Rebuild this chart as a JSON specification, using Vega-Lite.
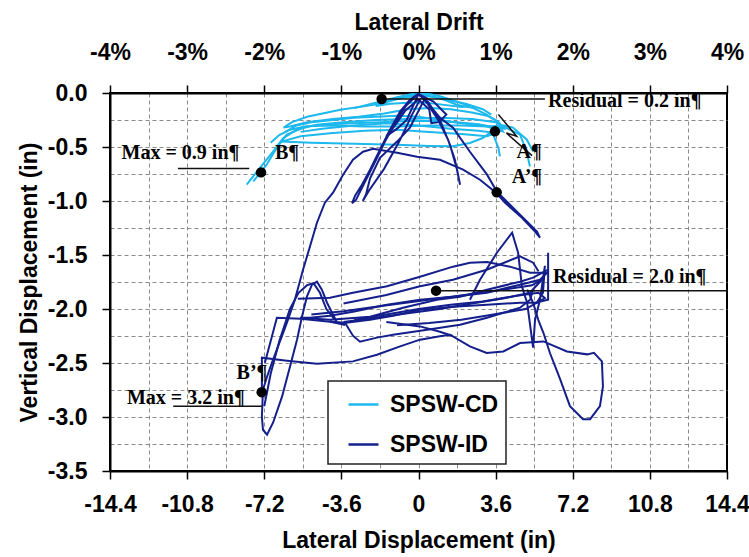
{
"$schema": "https://vega.github.io/schema/vega-lite/v6.json",
"width": 617, "height": 378,
"autosize": "none",
"padding": {"left": 110, "top": 93, "right": 22, "bottom": 86},
"background": "white",
"config": {
 "view": {"stroke": "#000", "strokeWidth": 2},
 "axis": {"labelFont": "Liberation Sans", "labelFontWeight": "bold", "labelFontSize": 23, "labelColor": "#000",
  "titleFont": "Liberation Sans", "titleFontWeight": "bold", "titleFontSize": 23, "titleColor": "#000",
  "domainColor": "#000", "domainWidth": 2, "tickColor": "#000", "tickWidth": 1.5, "tickSize": 8, "labelFlush": false},
 "legend": {"orient": "none", "legendX": 218, "legendY": 288, "fillColor": "white", "strokeColor": "#222", "strokeWidth": 1.5,
  "padding": 7, "symbolType": "stroke", "symbolSize": 900, "symbolStrokeWidth": 2.5, "symbolOffset": 12, "labelOffset": 10,
  "rowPadding": 11, "labelFont": "Liberation Sans", "labelFontWeight": "bold", "labelFontSize": 23, "labelColor": "#000"}
},
"datasets": {
 "curves": [
  {"s":"SPSW-CD","g":"c1","i":0,"x":0,"y":0},{"s":"SPSW-CD","g":"c1","i":1,"x":0.5,"y":-0.01},{"s":"SPSW-CD","g":"c1","i":2,"x":1.0,"y":-0.03},{"s":"SPSW-CD","g":"c1","i":3,"x":1.8,"y":-0.08},{"s":"SPSW-CD","g":"c1","i":4,"x":2.4,"y":-0.12},{"s":"SPSW-CD","g":"c1","i":5,"x":2.0,"y":-0.13},{"s":"SPSW-CD","g":"c1","i":6,"x":1.2,"y":-0.11},{"s":"SPSW-CD","g":"c1","i":7,"x":0.4,"y":-0.09},{"s":"SPSW-CD","g":"c1","i":8,"x":-0.5,"y":-0.09},{"s":"SPSW-CD","g":"c1","i":9,"x":-1.3,"y":-0.1},{"s":"SPSW-CD","g":"c1","i":10,"x":-2.0,"y":-0.12},{"s":"SPSW-CD","g":"c1","i":11,"x":-1.4,"y":-0.08},{"s":"SPSW-CD","g":"c1","i":12,"x":-0.7,"y":-0.04},{"s":"SPSW-CD","g":"c1","i":13,"x":0,"y":-0.01},
  {"s":"SPSW-CD","g":"c2","i":0,"x":0,"y":-0.01},{"s":"SPSW-CD","g":"c2","i":1,"x":-0.24,"y":-0.03},{"s":"SPSW-CD","g":"c2","i":2,"x":-1.17,"y":-0.06},{"s":"SPSW-CD","g":"c2","i":3,"x":-2.1,"y":-0.11},{"s":"SPSW-CD","g":"c2","i":4,"x":-3.65,"y":-0.155},{"s":"SPSW-CD","g":"c2","i":5,"x":-5.2,"y":-0.22},{"s":"SPSW-CD","g":"c2","i":6,"x":-5.9,"y":-0.27},{"s":"SPSW-CD","g":"c2","i":7,"x":-6.3,"y":-0.32},{"s":"SPSW-CD","g":"c2","i":8,"x":-6.0,"y":-0.31},{"s":"SPSW-CD","g":"c2","i":9,"x":-5.2,"y":-0.27},{"s":"SPSW-CD","g":"c2","i":10,"x":-4.0,"y":-0.24},{"s":"SPSW-CD","g":"c2","i":11,"x":-2.8,"y":-0.22},{"s":"SPSW-CD","g":"c2","i":12,"x":-1.6,"y":-0.19},{"s":"SPSW-CD","g":"c2","i":13,"x":-0.5,"y":-0.15},{"s":"SPSW-CD","g":"c2","i":14,"x":0.5,"y":-0.14},{"s":"SPSW-CD","g":"c2","i":15,"x":1.5,"y":-0.15},{"s":"SPSW-CD","g":"c2","i":16,"x":2.5,"y":-0.18},{"s":"SPSW-CD","g":"c2","i":17,"x":3.2,"y":-0.21},{"s":"SPSW-CD","g":"c2","i":18,"x":3.7,"y":-0.26},{"s":"SPSW-CD","g":"c2","i":19,"x":4.0,"y":-0.33},{"s":"SPSW-CD","g":"c2","i":20,"x":3.6,"y":-0.32},{"s":"SPSW-CD","g":"c2","i":21,"x":2.8,"y":-0.29},{"s":"SPSW-CD","g":"c2","i":22,"x":1.8,"y":-0.27},{"s":"SPSW-CD","g":"c2","i":23,"x":0.8,"y":-0.26},{"s":"SPSW-CD","g":"c2","i":24,"x":-0.5,"y":-0.26},{"s":"SPSW-CD","g":"c2","i":25,"x":-1.8,"y":-0.27},{"s":"SPSW-CD","g":"c2","i":26,"x":-3.0,"y":-0.28},{"s":"SPSW-CD","g":"c2","i":27,"x":-4.2,"y":-0.29},{"s":"SPSW-CD","g":"c2","i":28,"x":-5.3,"y":-0.31},{"s":"SPSW-CD","g":"c2","i":29,"x":-6.0,"y":-0.34},{"s":"SPSW-CD","g":"c2","i":30,"x":-6.5,"y":-0.39},{"s":"SPSW-CD","g":"c2","i":31,"x":-6.9,"y":-0.46},
  {"s":"SPSW-CD","g":"c3","i":0,"x":0,"y":0},{"s":"SPSW-CD","g":"c3","i":1,"x":0.07,"y":-0.016},{"s":"SPSW-CD","g":"c3","i":2,"x":1.0,"y":-0.046},{"s":"SPSW-CD","g":"c3","i":3,"x":1.78,"y":-0.108},{"s":"SPSW-CD","g":"c3","i":4,"x":2.56,"y":-0.139},{"s":"SPSW-CD","g":"c3","i":5,"x":3.18,"y":-0.2},{"s":"SPSW-CD","g":"c3","i":6,"x":3.65,"y":-0.263},{"s":"SPSW-CD","g":"c3","i":7,"x":3.94,"y":-0.356},{"s":"SPSW-CD","g":"c3","i":8,"x":3.7,"y":-0.34},{"s":"SPSW-CD","g":"c3","i":9,"x":3.0,"y":-0.3},{"s":"SPSW-CD","g":"c3","i":10,"x":2.0,"y":-0.28},{"s":"SPSW-CD","g":"c3","i":11,"x":1.0,"y":-0.25},{"s":"SPSW-CD","g":"c3","i":12,"x":0,"y":-0.22},{"s":"SPSW-CD","g":"c3","i":13,"x":-1.0,"y":-0.21},{"s":"SPSW-CD","g":"c3","i":14,"x":-2.0,"y":-0.22},{"s":"SPSW-CD","g":"c3","i":15,"x":-3.0,"y":-0.23},{"s":"SPSW-CD","g":"c3","i":16,"x":-4.0,"y":-0.25},{"s":"SPSW-CD","g":"c3","i":17,"x":-5.0,"y":-0.27},{"s":"SPSW-CD","g":"c3","i":18,"x":-5.7,"y":-0.3},{"s":"SPSW-CD","g":"c3","i":19,"x":-6.2,"y":-0.36},
  {"s":"SPSW-CD","g":"c4","i":0,"x":-6.4,"y":-0.45},{"s":"SPSW-CD","g":"c4","i":1,"x":-5.0,"y":-0.46},{"s":"SPSW-CD","g":"c4","i":2,"x":-3.0,"y":-0.47},{"s":"SPSW-CD","g":"c4","i":3,"x":-1.0,"y":-0.48},{"s":"SPSW-CD","g":"c4","i":4,"x":0.5,"y":-0.49},{"s":"SPSW-CD","g":"c4","i":5,"x":1.61,"y":-0.494},{"s":"SPSW-CD","g":"c4","i":6,"x":2.4,"y":-0.463},{"s":"SPSW-CD","g":"c4","i":7,"x":3.0,"y":-0.417},{"s":"SPSW-CD","g":"c4","i":8,"x":3.42,"y":-0.356},{"s":"SPSW-CD","g":"c4","i":9,"x":3.49,"y":-0.386},{"s":"SPSW-CD","g":"c4","i":10,"x":3.73,"y":-0.509},{"s":"SPSW-CD","g":"c4","i":11,"x":3.8,"y":-0.587},
  {"s":"SPSW-CD","g":"c5","i":0,"x":-8.02,"y":-0.849},{"s":"SPSW-CD","g":"c5","i":1,"x":-7.4,"y":-0.694},{"s":"SPSW-CD","g":"c5","i":2,"x":-6.78,"y":-0.541},{"s":"SPSW-CD","g":"c5","i":3,"x":-6.31,"y":-0.417},{"s":"SPSW-CD","g":"c5","i":4,"x":-5.69,"y":-0.34},{"s":"SPSW-CD","g":"c5","i":5,"x":-4.75,"y":-0.293},{"s":"SPSW-CD","g":"c5","i":6,"x":-3.5,"y":-0.27},{"s":"SPSW-CD","g":"c5","i":7,"x":-2.0,"y":-0.25},{"s":"SPSW-CD","g":"c5","i":8,"x":-0.5,"y":-0.24},{"s":"SPSW-CD","g":"c5","i":9,"x":1.0,"y":-0.23},{"s":"SPSW-CD","g":"c5","i":10,"x":2.5,"y":-0.24},{"s":"SPSW-CD","g":"c5","i":11,"x":3.6,"y":-0.27},{"s":"SPSW-CD","g":"c5","i":12,"x":4.12,"y":-0.324},{"s":"SPSW-CD","g":"c5","i":13,"x":4.74,"y":-0.386},{"s":"SPSW-CD","g":"c5","i":14,"x":5.05,"y":-0.541},{"s":"SPSW-CD","g":"c5","i":15,"x":5.2,"y":-0.68},
  {"s":"SPSW-CD","g":"c6","i":0,"x":-7.71,"y":-0.819},{"s":"SPSW-CD","g":"c6","i":1,"x":-7.09,"y":-0.664},{"s":"SPSW-CD","g":"c6","i":2,"x":-6.62,"y":-0.509},{"s":"SPSW-CD","g":"c6","i":3,"x":-6.15,"y":-0.386},{"s":"SPSW-CD","g":"c6","i":4,"x":-5.22,"y":-0.309},{"s":"SPSW-CD","g":"c6","i":5,"x":-4.0,"y":-0.3},{"s":"SPSW-CD","g":"c6","i":6,"x":-2.5,"y":-0.31},{"s":"SPSW-CD","g":"c6","i":7,"x":-1.0,"y":-0.31},{"s":"SPSW-CD","g":"c6","i":8,"x":0.5,"y":-0.3},{"s":"SPSW-CD","g":"c6","i":9,"x":2.0,"y":-0.3},{"s":"SPSW-CD","g":"c6","i":10,"x":3.2,"y":-0.31},{"s":"SPSW-CD","g":"c6","i":11,"x":4.0,"y":-0.3},{"s":"SPSW-CD","g":"c6","i":12,"x":4.41,"y":-0.32},{"s":"SPSW-CD","g":"c6","i":13,"x":5.05,"y":-0.43},{"s":"SPSW-CD","g":"c6","i":14,"x":5.35,"y":-0.541},
  {"s":"SPSW-CD","g":"c7","i":0,"x":-5.5,"y":-0.36},{"s":"SPSW-CD","g":"c7","i":1,"x":-4.5,"y":-0.33},{"s":"SPSW-CD","g":"c7","i":2,"x":-3.0,"y":-0.3},{"s":"SPSW-CD","g":"c7","i":3,"x":-1.5,"y":-0.28},{"s":"SPSW-CD","g":"c7","i":4,"x":0,"y":-0.3},{"s":"SPSW-CD","g":"c7","i":5,"x":1.5,"y":-0.33},{"s":"SPSW-CD","g":"c7","i":6,"x":2.8,"y":-0.35},{"s":"SPSW-CD","g":"c7","i":7,"x":3.6,"y":-0.37},{"s":"SPSW-CD","g":"c7","i":8,"x":3.2,"y":-0.4},{"s":"SPSW-CD","g":"c7","i":9,"x":2.0,"y":-0.38},{"s":"SPSW-CD","g":"c7","i":10,"x":0.5,"y":-0.36},{"s":"SPSW-CD","g":"c7","i":11,"x":-1.0,"y":-0.34},{"s":"SPSW-CD","g":"c7","i":12,"x":-2.5,"y":-0.35},{"s":"SPSW-CD","g":"c7","i":13,"x":-4.0,"y":-0.37},{"s":"SPSW-CD","g":"c7","i":14,"x":-5.5,"y":-0.4},{"s":"SPSW-CD","g":"c7","i":15,"x":-6.4,"y":-0.45},
  {"s":"SPSW-CD","g":"c8","i":0,"x":-3.0,"y":-0.14},{"s":"SPSW-CD","g":"c8","i":1,"x":-2.0,"y":-0.09},{"s":"SPSW-CD","g":"c8","i":2,"x":-1.0,"y":-0.04},{"s":"SPSW-CD","g":"c8","i":3,"x":-0.3,"y":-0.01},{"s":"SPSW-CD","g":"c8","i":4,"x":0.3,"y":-0.02},{"s":"SPSW-CD","g":"c8","i":5,"x":1.2,"y":-0.06},{"s":"SPSW-CD","g":"c8","i":6,"x":2.2,"y":-0.1},{"s":"SPSW-CD","g":"c8","i":7,"x":3.0,"y":-0.15},{"s":"SPSW-CD","g":"c8","i":8,"x":3.4,"y":-0.2},

  {"s":"SPSW-ID","g":"d1","i":0,"x":0,"y":-0.006},{"s":"SPSW-ID","g":"d1","i":1,"x":0.3,"y":-0.062},{"s":"SPSW-ID","g":"d1","i":2,"x":0.91,"y":-0.247},{"s":"SPSW-ID","g":"d1","i":3,"x":1.38,"y":-0.432},{"s":"SPSW-ID","g":"d1","i":4,"x":1.7,"y":-0.618},{"s":"SPSW-ID","g":"d1","i":5,"x":1.94,"y":-0.849},{"s":"SPSW-ID","g":"d1","i":6,"x":1.8,"y":-0.71},{"s":"SPSW-ID","g":"d1","i":7,"x":1.47,"y":-0.479},{"s":"SPSW-ID","g":"d1","i":8,"x":1.0,"y":-0.25},{"s":"SPSW-ID","g":"d1","i":9,"x":0.44,"y":-0.081},{"s":"SPSW-ID","g":"d1","i":10,"x":0,"y":-0.006},{"s":"SPSW-ID","g":"d1","i":11,"x":-0.4,"y":-0.062},{"s":"SPSW-ID","g":"d1","i":12,"x":-0.86,"y":-0.173},{"s":"SPSW-ID","g":"d1","i":13,"x":-1.33,"y":-0.34},{"s":"SPSW-ID","g":"d1","i":14,"x":-1.8,"y":-0.525},{"s":"SPSW-ID","g":"d1","i":15,"x":-2.26,"y":-0.71},{"s":"SPSW-ID","g":"d1","i":16,"x":-2.64,"y":-0.849},{"s":"SPSW-ID","g":"d1","i":17,"x":-2.96,"y":-0.951},{"s":"SPSW-ID","g":"d1","i":18,"x":-3.1,"y":-1.02},{"s":"SPSW-ID","g":"d1","i":19,"x":-2.92,"y":-0.99},{"s":"SPSW-ID","g":"d1","i":20,"x":-2.45,"y":-0.803},{"s":"SPSW-ID","g":"d1","i":21,"x":-1.98,"y":-0.618},{"s":"SPSW-ID","g":"d1","i":22,"x":-1.52,"y":-0.432},{"s":"SPSW-ID","g":"d1","i":23,"x":-1.05,"y":-0.266},{"s":"SPSW-ID","g":"d1","i":24,"x":-0.58,"y":-0.118},{"s":"SPSW-ID","g":"d1","i":25,"x":0,"y":-0.006},
  {"s":"SPSW-ID","g":"d2","i":0,"x":0,"y":-0.01},{"s":"SPSW-ID","g":"d2","i":1,"x":-0.55,"y":-0.25},{"s":"SPSW-ID","g":"d2","i":2,"x":-1.0,"y":-0.33},{"s":"SPSW-ID","g":"d2","i":3,"x":-1.5,"y":-0.4},{"s":"SPSW-ID","g":"d2","i":4,"x":-1.1,"y":-0.3},{"s":"SPSW-ID","g":"d2","i":5,"x":-0.6,"y":-0.16},{"s":"SPSW-ID","g":"d2","i":6,"x":0,"y":-0.06},{"s":"SPSW-ID","g":"d2","i":7,"x":0.5,"y":-0.15},{"s":"SPSW-ID","g":"d2","i":8,"x":0.6,"y":-0.28},{"s":"SPSW-ID","g":"d2","i":9,"x":0.95,"y":-0.27},{"s":"SPSW-ID","g":"d2","i":10,"x":1.3,"y":-0.2},{"s":"SPSW-ID","g":"d2","i":11,"x":0.7,"y":-0.08},{"s":"SPSW-ID","g":"d2","i":12,"x":0,"y":-0.01},
  {"s":"SPSW-ID","g":"d3","i":0,"x":0.3,"y":-0.05},{"s":"SPSW-ID","g":"d3","i":1,"x":-0.4,"y":-0.32},{"s":"SPSW-ID","g":"d3","i":2,"x":-1.0,"y":-0.45},{"s":"SPSW-ID","g":"d3","i":3,"x":-1.8,"y":-0.6},{"s":"SPSW-ID","g":"d3","i":4,"x":-2.26,"y":-0.79},{"s":"SPSW-ID","g":"d3","i":5,"x":-2.45,"y":-0.94},{"s":"SPSW-ID","g":"d3","i":6,"x":-2.6,"y":-1.0},{"s":"SPSW-ID","g":"d3","i":7,"x":-2.3,"y":-0.9},{"s":"SPSW-ID","g":"d3","i":8,"x":-1.6,"y":-0.7},{"s":"SPSW-ID","g":"d3","i":9,"x":-0.9,"y":-0.45},{"s":"SPSW-ID","g":"d3","i":10,"x":-0.3,"y":-0.2},{"s":"SPSW-ID","g":"d3","i":11,"x":0.1,"y":-0.05},
  {"s":"SPSW-ID","g":"d4","i":0,"x":0,"y":-0.006},{"s":"SPSW-ID","g":"d4","i":1,"x":0.44,"y":-0.099},{"s":"SPSW-ID","g":"d4","i":2,"x":1.0,"y":-0.229},{"s":"SPSW-ID","g":"d4","i":3,"x":1.61,"y":-0.321},{"s":"SPSW-ID","g":"d4","i":4,"x":2.4,"y":-0.544},{"s":"SPSW-ID","g":"d4","i":5,"x":3.2,"y":-0.756},{"s":"SPSW-ID","g":"d4","i":6,"x":3.66,"y":-0.914},{"s":"SPSW-ID","g":"d4","i":7,"x":4.41,"y":-1.062},{"s":"SPSW-ID","g":"d4","i":8,"x":5.07,"y":-1.192},{"s":"SPSW-ID","g":"d4","i":9,"x":5.53,"y":-1.284},{"s":"SPSW-ID","g":"d4","i":10,"x":5.67,"y":-1.34},{"s":"SPSW-ID","g":"d4","i":11,"x":5.44,"y":-1.284},{"s":"SPSW-ID","g":"d4","i":12,"x":4.83,"y":-1.155},{"s":"SPSW-ID","g":"d4","i":13,"x":4.04,"y":-1.016},{"s":"SPSW-ID","g":"d4","i":14,"x":3.62,"y":-0.923},{"s":"SPSW-ID","g":"d4","i":15,"x":2.87,"y":-0.803},{"s":"SPSW-ID","g":"d4","i":16,"x":2.08,"y":-0.71},{"s":"SPSW-ID","g":"d4","i":17,"x":1.0,"y":-0.618},{"s":"SPSW-ID","g":"d4","i":18,"x":-0.07,"y":-0.59},{"s":"SPSW-ID","g":"d4","i":19,"x":-1.0,"y":-0.553},{"s":"SPSW-ID","g":"d4","i":20,"x":-2.12,"y":-0.516},{"s":"SPSW-ID","g":"d4","i":21,"x":-2.59,"y":-0.544},{"s":"SPSW-ID","g":"d4","i":22,"x":-3.06,"y":-0.618},{"s":"SPSW-ID","g":"d4","i":23,"x":-3.52,"y":-0.756},{"s":"SPSW-ID","g":"d4","i":24,"x":-3.99,"y":-0.923},{"s":"SPSW-ID","g":"d4","i":25,"x":-4.37,"y":-1.016},{"s":"SPSW-ID","g":"d4","i":26,"x":-4.74,"y":-1.201},{"s":"SPSW-ID","g":"d4","i":27,"x":-5.07,"y":-1.423},{"s":"SPSW-ID","g":"d4","i":28,"x":-5.39,"y":-1.636},{"s":"SPSW-ID","g":"d4","i":29,"x":-5.77,"y":-1.914},{"s":"SPSW-ID","g":"d4","i":30,"x":-6.14,"y":-2.127},{"s":"SPSW-ID","g":"d4","i":31,"x":-6.56,"y":-2.349},{"s":"SPSW-ID","g":"d4","i":32,"x":-6.84,"y":-2.497},{"s":"SPSW-ID","g":"d4","i":33,"x":-7.07,"y":-2.627},{"s":"SPSW-ID","g":"d4","i":34,"x":-7.26,"y":-2.747},{"s":"SPSW-ID","g":"d4","i":35,"x":-7.31,"y":-2.997},{"s":"SPSW-ID","g":"d4","i":36,"x":-7.26,"y":-3.118},{"s":"SPSW-ID","g":"d4","i":37,"x":-7.07,"y":-3.164},{"s":"SPSW-ID","g":"d4","i":38,"x":-6.79,"y":-3.053},{"s":"SPSW-ID","g":"d4","i":39,"x":-6.37,"y":-2.812},{"s":"SPSW-ID","g":"d4","i":40,"x":-6.0,"y":-2.534},{"s":"SPSW-ID","g":"d4","i":41,"x":-5.67,"y":-2.284},{"s":"SPSW-ID","g":"d4","i":42,"x":-5.44,"y":-2.071},{"s":"SPSW-ID","g":"d4","i":43,"x":-5.21,"y":-1.886},{"s":"SPSW-ID","g":"d4","i":44,"x":-4.97,"y":-1.775},{"s":"SPSW-ID","g":"d4","i":45,"x":-4.74,"y":-1.747},{"s":"SPSW-ID","g":"d4","i":46,"x":-4.51,"y":-1.821},{"s":"SPSW-ID","g":"d4","i":47,"x":-4.27,"y":-1.942},{"s":"SPSW-ID","g":"d4","i":48,"x":-3.8,"y":-2.127},{"s":"SPSW-ID","g":"d4","i":49,"x":-3.43,"y":-2.145},
  {"s":"SPSW-ID","g":"d5","i":0,"x":-5.63,"y":-1.905},{"s":"SPSW-ID","g":"d5","i":1,"x":-4.13,"y":-1.896},{"s":"SPSW-ID","g":"d5","i":2,"x":-3.06,"y":-1.849},{"s":"SPSW-ID","g":"d5","i":3,"x":-1.47,"y":-1.79},{"s":"SPSW-ID","g":"d5","i":4,"x":0.07,"y":-1.701},{"s":"SPSW-ID","g":"d5","i":5,"x":1.61,"y":-1.608},{"s":"SPSW-ID","g":"d5","i":6,"x":2.4,"y":-1.571},{"s":"SPSW-ID","g":"d5","i":7,"x":3.2,"y":-1.565},{"s":"SPSW-ID","g":"d5","i":8,"x":4.27,"y":-1.608},{"s":"SPSW-ID","g":"d5","i":9,"x":5.21,"y":-1.664},{"s":"SPSW-ID","g":"d5","i":10,"x":6.0,"y":-1.664},{"s":"SPSW-ID","g":"d5","i":11,"x":5.67,"y":-1.729},{"s":"SPSW-ID","g":"d5","i":12,"x":4.74,"y":-1.775},{"s":"SPSW-ID","g":"d5","i":13,"x":3.2,"y":-1.849},{"s":"SPSW-ID","g":"d5","i":14,"x":1.61,"y":-1.886},{"s":"SPSW-ID","g":"d5","i":15,"x":0.07,"y":-1.914},{"s":"SPSW-ID","g":"d5","i":16,"x":-1.47,"y":-1.96},{"s":"SPSW-ID","g":"d5","i":17,"x":-3.06,"y":-2.025},{"s":"SPSW-ID","g":"d5","i":18,"x":-4.13,"y":-2.062},{"s":"SPSW-ID","g":"d5","i":19,"x":-5.07,"y":-2.081},{"s":"SPSW-ID","g":"d5","i":20,"x":-5.53,"y":-2.081},
  {"s":"SPSW-ID","g":"d6","i":0,"x":-5.53,"y":-2.081},{"s":"SPSW-ID","g":"d6","i":1,"x":-4.13,"y":-2.099},{"s":"SPSW-ID","g":"d6","i":2,"x":-2.26,"y":-2.071},{"s":"SPSW-ID","g":"d6","i":3,"x":-0.72,"y":-1.988},{"s":"SPSW-ID","g":"d6","i":4,"x":0.86,"y":-1.914},{"s":"SPSW-ID","g":"d6","i":5,"x":1.94,"y":-1.886},{"s":"SPSW-ID","g":"d6","i":6,"x":3.2,"y":-1.821},{"s":"SPSW-ID","g":"d6","i":7,"x":4.74,"y":-1.747},{"s":"SPSW-ID","g":"d6","i":8,"x":5.35,"y":-1.71},{"s":"SPSW-ID","g":"d6","i":9,"x":6.05,"y":-1.636},{"s":"SPSW-ID","g":"d6","i":10,"x":6.05,"y":-1.479},{"s":"SPSW-ID","g":"d6","i":11,"x":6.05,"y":-1.914},{"s":"SPSW-ID","g":"d6","i":12,"x":5.44,"y":-1.942},{"s":"SPSW-ID","g":"d6","i":13,"x":4.74,"y":-1.942},{"s":"SPSW-ID","g":"d6","i":14,"x":3.2,"y":-1.96},{"s":"SPSW-ID","g":"d6","i":15,"x":1.61,"y":-1.979},{"s":"SPSW-ID","g":"d6","i":16,"x":0.07,"y":-2.007},{"s":"SPSW-ID","g":"d6","i":17,"x":-1.19,"y":-2.062},{"s":"SPSW-ID","g":"d6","i":18,"x":-2.26,"y":-2.099},{"s":"SPSW-ID","g":"d6","i":19,"x":-3.38,"y":-2.127},{"s":"SPSW-ID","g":"d6","i":20,"x":-4.13,"y":-2.118},
  {"s":"SPSW-ID","g":"d7","i":0,"x":-3.43,"y":-2.127},{"s":"SPSW-ID","g":"d7","i":1,"x":-3.06,"y":-2.247},{"s":"SPSW-ID","g":"d7","i":2,"x":-2.73,"y":-2.303},{"s":"SPSW-ID","g":"d7","i":3,"x":-1.94,"y":-2.265},{"s":"SPSW-ID","g":"d7","i":4,"x":-1.19,"y":-2.238},{"s":"SPSW-ID","g":"d7","i":5,"x":0.4,"y":-2.192},{"s":"SPSW-ID","g":"d7","i":6,"x":1.94,"y":-2.145},{"s":"SPSW-ID","g":"d7","i":7,"x":3.2,"y":-2.081},{"s":"SPSW-ID","g":"d7","i":8,"x":4.74,"y":-1.988},{"s":"SPSW-ID","g":"d7","i":9,"x":5.21,"y":-1.914},{"s":"SPSW-ID","g":"d7","i":10,"x":5.35,"y":-1.821},
  {"s":"SPSW-ID","g":"d8","i":0,"x":2.4,"y":-1.914},{"s":"SPSW-ID","g":"d8","i":1,"x":2.87,"y":-1.729},{"s":"SPSW-ID","g":"d8","i":2,"x":3.66,"y":-1.479},{"s":"SPSW-ID","g":"d8","i":3,"x":4.37,"y":-1.293},{"s":"SPSW-ID","g":"d8","i":4,"x":4.65,"y":-1.479},{"s":"SPSW-ID","g":"d8","i":5,"x":4.83,"y":-1.794},{"s":"SPSW-ID","g":"d8","i":6,"x":5.07,"y":-1.942},{"s":"SPSW-ID","g":"d8","i":7,"x":5.35,"y":-2.358},{"s":"SPSW-ID","g":"d8","i":8,"x":5.44,"y":-2.099},{"s":"SPSW-ID","g":"d8","i":9,"x":5.67,"y":-1.914},{"s":"SPSW-ID","g":"d8","i":10,"x":5.9,"y":-1.6},{"s":"SPSW-ID","g":"d8","i":11,"x":5.81,"y":-1.85},{"s":"SPSW-ID","g":"d8","i":12,"x":5.5,"y":-1.95},
  {"s":"SPSW-ID","g":"d9","i":0,"x":-3.5,"y":-1.95},{"s":"SPSW-ID","g":"d9","i":1,"x":-1.5,"y":-1.87},{"s":"SPSW-ID","g":"d9","i":2,"x":0.07,"y":-1.79},{"s":"SPSW-ID","g":"d9","i":3,"x":1.61,"y":-1.729},{"s":"SPSW-ID","g":"d9","i":4,"x":3.18,"y":-1.636},{"s":"SPSW-ID","g":"d9","i":5,"x":4.74,"y":-1.513},{"s":"SPSW-ID","g":"d9","i":6,"x":5.35,"y":-1.571},{"s":"SPSW-ID","g":"d9","i":7,"x":5.6,"y":-1.65},
  {"s":"SPSW-ID","g":"d10","i":0,"x":-7.31,"y":-2.747},{"s":"SPSW-ID","g":"d10","i":1,"x":-7.31,"y":-2.451},{"s":"SPSW-ID","g":"d10","i":2,"x":-6.14,"y":-2.479},{"s":"SPSW-ID","g":"d10","i":3,"x":-4.74,"y":-2.507},{"s":"SPSW-ID","g":"d10","i":4,"x":-3.06,"y":-2.485},{"s":"SPSW-ID","g":"d10","i":5,"x":-1.94,"y":-2.423},{"s":"SPSW-ID","g":"d10","i":6,"x":-0.86,"y":-2.346},{"s":"SPSW-ID","g":"d10","i":7,"x":0.07,"y":-2.284},{"s":"SPSW-ID","g":"d10","i":8,"x":1.0,"y":-2.253},{"s":"SPSW-ID","g":"d10","i":9,"x":1.47,"y":-2.238},{"s":"SPSW-ID","g":"d10","i":10,"x":2.4,"y":-2.346},{"s":"SPSW-ID","g":"d10","i":11,"x":3.18,"y":-2.407},{"s":"SPSW-ID","g":"d10","i":12,"x":3.96,"y":-2.393},{"s":"SPSW-ID","g":"d10","i":13,"x":4.74,"y":-2.315},{"s":"SPSW-ID","g":"d10","i":14,"x":5.83,"y":-2.3},{"s":"SPSW-ID","g":"d10","i":15,"x":6.93,"y":-2.393},{"s":"SPSW-ID","g":"d10","i":16,"x":7.87,"y":-2.42},{"s":"SPSW-ID","g":"d10","i":17,"x":8.19,"y":-2.405},{"s":"SPSW-ID","g":"d10","i":18,"x":8.56,"y":-2.485},{"s":"SPSW-ID","g":"d10","i":19,"x":8.61,"y":-2.716},{"s":"SPSW-ID","g":"d10","i":20,"x":8.47,"y":-2.9},{"s":"SPSW-ID","g":"d10","i":21,"x":8.01,"y":-3.02},{"s":"SPSW-ID","g":"d10","i":22,"x":7.68,"y":-3.02},{"s":"SPSW-ID","g":"d10","i":23,"x":7.07,"y":-2.9},{"s":"SPSW-ID","g":"d10","i":24,"x":6.61,"y":-2.65},{"s":"SPSW-ID","g":"d10","i":25,"x":6.14,"y":-2.41},{"s":"SPSW-ID","g":"d10","i":26,"x":5.83,"y":-2.22},{"s":"SPSW-ID","g":"d10","i":27,"x":5.59,"y":-2.1},{"s":"SPSW-ID","g":"d10","i":28,"x":5.35,"y":-1.942},{"s":"SPSW-ID","g":"d10","i":29,"x":5.07,"y":-1.821},
  {"s":"SPSW-ID","g":"d11","i":0,"x":-7.17,"y":-2.497},{"s":"SPSW-ID","g":"d11","i":1,"x":-6.61,"y":-2.081},{"s":"SPSW-ID","g":"d11","i":2,"x":-5.5,"y":-2.09},{"s":"SPSW-ID","g":"d11","i":3,"x":-4.13,"y":-2.118},{"s":"SPSW-ID","g":"d11","i":4,"x":-3.43,"y":-2.145},
  {"s":"SPSW-ID","g":"d12","i":0,"x":-7.2,"y":-2.9},{"s":"SPSW-ID","g":"d12","i":1,"x":-6.9,"y":-2.6},{"s":"SPSW-ID","g":"d12","i":2,"x":-6.5,"y":-2.3},{"s":"SPSW-ID","g":"d12","i":3,"x":-6.0,"y":-2.0},{"s":"SPSW-ID","g":"d12","i":4,"x":-5.6,"y":-1.85},{"s":"SPSW-ID","g":"d12","i":5,"x":-5.2,"y":-1.78},{"s":"SPSW-ID","g":"d12","i":6,"x":-4.9,"y":-1.76},{"s":"SPSW-ID","g":"d12","i":7,"x":-4.6,"y":-1.85},{"s":"SPSW-ID","g":"d12","i":8,"x":-4.3,"y":-2.0},{"s":"SPSW-ID","g":"d12","i":9,"x":-3.9,"y":-2.1},
  {"s":"SPSW-ID","g":"d13","i":0,"x":-1.5,"y":-2.12},{"s":"SPSW-ID","g":"d13","i":1,"x":0.07,"y":-2.161},{"s":"SPSW-ID","g":"d13","i":2,"x":1.0,"y":-2.21},{"s":"SPSW-ID","g":"d13","i":3,"x":1.6,"y":-2.25},
  {"s":"SPSW-ID","g":"d14","i":0,"x":-5.0,"y":-2.05},{"s":"SPSW-ID","g":"d14","i":1,"x":-3.5,"y":-2.02},{"s":"SPSW-ID","g":"d14","i":2,"x":-2.0,"y":-1.98},{"s":"SPSW-ID","g":"d14","i":3,"x":-0.5,"y":-1.94},{"s":"SPSW-ID","g":"d14","i":4,"x":1.0,"y":-1.9},{"s":"SPSW-ID","g":"d14","i":5,"x":2.5,"y":-1.86},{"s":"SPSW-ID","g":"d14","i":6,"x":4.0,"y":-1.82},{"s":"SPSW-ID","g":"d14","i":7,"x":5.3,"y":-1.78},{"s":"SPSW-ID","g":"d14","i":8,"x":5.8,"y":-1.72},{"s":"SPSW-ID","g":"d14","i":9,"x":5.2,"y":-1.85},{"s":"SPSW-ID","g":"d14","i":10,"x":4.0,"y":-1.9},{"s":"SPSW-ID","g":"d14","i":11,"x":2.5,"y":-1.95},{"s":"SPSW-ID","g":"d14","i":12,"x":1.0,"y":-2.0},{"s":"SPSW-ID","g":"d14","i":13,"x":-0.5,"y":-2.04},{"s":"SPSW-ID","g":"d14","i":14,"x":-2.0,"y":-2.08},{"s":"SPSW-ID","g":"d14","i":15,"x":-3.5,"y":-2.12},
  {"s":"SPSW-ID","g":"d15","i":0,"x":-3.0,"y":-2.1},{"s":"SPSW-ID","g":"d15","i":1,"x":-1.5,"y":-2.05},{"s":"SPSW-ID","g":"d15","i":2,"x":0,"y":-2.0},{"s":"SPSW-ID","g":"d15","i":3,"x":1.5,"y":-1.96},{"s":"SPSW-ID","g":"d15","i":4,"x":3.0,"y":-1.93},{"s":"SPSW-ID","g":"d15","i":5,"x":4.5,"y":-1.88},{"s":"SPSW-ID","g":"d15","i":6,"x":5.6,"y":-1.85},{"s":"SPSW-ID","g":"d15","i":7,"x":5.9,"y":-1.9},{"s":"SPSW-ID","g":"d15","i":8,"x":5.0,"y":-2.0},{"s":"SPSW-ID","g":"d15","i":9,"x":3.5,"y":-2.05},{"s":"SPSW-ID","g":"d15","i":10,"x":2.0,"y":-2.1},{"s":"SPSW-ID","g":"d15","i":11,"x":0.5,"y":-2.13},{"s":"SPSW-ID","g":"d15","i":12,"x":-1.0,"y":-2.15}
 ],
 "dots": [
  {"x":-1.72,"y":-0.056},{"x":-7.35,"y":-0.735},{"x":3.57,"y":-0.355},{"x":3.65,"y":-0.92},{"x":0.82,"y":-1.83},{"x":-7.32,"y":-2.77}
 ],
 "notes": [
  {"t":"Residual = 0.2 in¶","x":6.05,"y":-0.075},
  {"t":"Residual = 2.0 in¶","x":6.28,"y":-1.7},
  {"t":"Max = 0.9 in¶","x":-13.86,"y":-0.556},
  {"t":"B¶","x":-6.7,"y":-0.556},
  {"t":"A¶","x":4.58,"y":-0.55},
  {"t":"A’¶","x":4.35,"y":-0.775},
  {"t":"B’¶","x":-8.49,"y":-2.593},
  {"t":"Max = 3.2 in¶","x":-13.61,"y":-2.824}
 ],
 "leaders": [
  {"k":"L1","i":0,"x":-1.72,"y":-0.056},{"k":"L1","i":1,"x":5.9,"y":-0.056},
  {"k":"L2","i":0,"x":0.82,"y":-1.83},{"k":"L2","i":1,"x":14.4,"y":-1.83},
  {"k":"L3","i":0,"x":-11.23,"y":-0.7},{"k":"L3","i":1,"x":-7.9,"y":-0.7},
  {"k":"L4","i":0,"x":-11.45,"y":-2.9},{"k":"L4","i":1,"x":-7.31,"y":-2.9},
  {"k":"L5","i":0,"x":3.73,"y":-0.2},{"k":"L5","i":1,"x":4.58,"y":-0.4},{"k":"L5","i":2,"x":4.1,"y":-0.37},{"k":"L5","i":3,"x":5.3,"y":-0.58}
 ]
},
"resolve": {"axis": {"x": "independent", "y": "independent"}},
"layer": [
 {
  "data": {"name": "curves"},
  "mark": {"type": "line", "strokeWidth": 2, "clip": true},
  "encoding": {
   "x": {"field": "x", "type": "quantitative", "scale": {"domain": [-14.4, 14.4], "nice": false, "zero": false},
    "axis": {"orient": "bottom", "values": [-12.6,-10.8,-9,-7.2,-5.4,-3.6,-1.8,0,1.8,3.6,5.4,7.2,9,10.8,12.6], "grid": true, "gridDash": [4,3], "gridColor": "#8a8a8a", "gridWidth": 1, "labels": false, "ticks": false, "domain": false, "title": null}},
   "y": {"field": "y", "type": "quantitative", "scale": {"domain": [-3.5, 0], "nice": false, "zero": false},
    "axis": {"orient": "left", "values": [-3.25,-3,-2.75,-2.5,-2.25,-2,-1.75,-1.5,-1.25,-1,-0.75,-0.5,-0.25], "grid": true, "gridDash": [4,3], "gridColor": "#8a8a8a", "gridWidth": 1, "labels": false, "ticks": false, "domain": false, "title": null}},
   "color": {"field": "s", "type": "nominal", "scale": {"domain": ["SPSW-CD", "SPSW-ID"], "range": ["#1cb8ee", "#141f8c"]}, "legend": {"title": null}},
   "detail": {"field": "g"},
   "order": {"field": "i", "type": "quantitative"}
  }
 },
 {
  "data": {"name": "leaders"},
  "mark": {"type": "line", "color": "#111", "strokeWidth": 1.5},
  "encoding": {
   "x": {"field": "x", "type": "quantitative", "scale": {"domain": [-14.4, 14.4], "nice": false, "zero": false}, "axis": null},
   "y": {"field": "y", "type": "quantitative", "scale": {"domain": [-3.5, 0], "nice": false, "zero": false}, "axis": null},
   "detail": {"field": "k"},
   "order": {"field": "i", "type": "quantitative"}
  }
 },
 {
  "data": {"name": "dots"},
  "mark": {"type": "point", "filled": true, "color": "#000", "size": 110, "opacity": 1},
  "encoding": {
   "x": {"field": "x", "type": "quantitative", "scale": {"domain": [-14.4, 14.4], "nice": false, "zero": false},
    "axis": {"orient": "bottom", "values": [-14.4,-10.8,-7.2,-3.6,0,3.6,7.2,10.8,14.4], "labelExpr": "'' + datum.value", "grid": false, "title": "Lateral Displacement (in)", "labelPadding": 14, "titlePadding": 13}},
   "y": {"field": "y", "type": "quantitative", "scale": {"domain": [-3.5, 0], "nice": false, "zero": false},
    "axis": {"orient": "left", "values": [0,-0.5,-1,-1.5,-2,-2.5,-3,-3.5], "labelExpr": "replace(format(datum.value, '.1f'), '−', '-')", "grid": false, "title": "Vertical Displacement (in)", "labelPadding": 15, "titlePadding": 6}}
  }
 },
 {
  "data": {"name": "notes"},
  "mark": {"type": "text", "align": "left", "baseline": "middle", "font": "Liberation Serif", "fontWeight": "bold", "fontSize": 20, "color": "#000"},
  "encoding": {
   "x": {"field": "x", "type": "quantitative", "scale": {"domain": [-14.4, 14.4], "nice": false, "zero": false},
    "axis": {"orient": "top", "values": [-14.4,-10.8,-7.2,-3.6,0,3.6,7.2,10.8,14.4], "labelExpr": "round(datum.value / 3.6) + '%'", "grid": false, "title": "Lateral Drift", "labelPadding": 21, "titlePadding": 7}},
   "y": {"field": "y", "type": "quantitative", "scale": {"domain": [-3.5, 0], "nice": false, "zero": false}, "axis": null},
   "text": {"field": "t"}
  }
 }
]
}
